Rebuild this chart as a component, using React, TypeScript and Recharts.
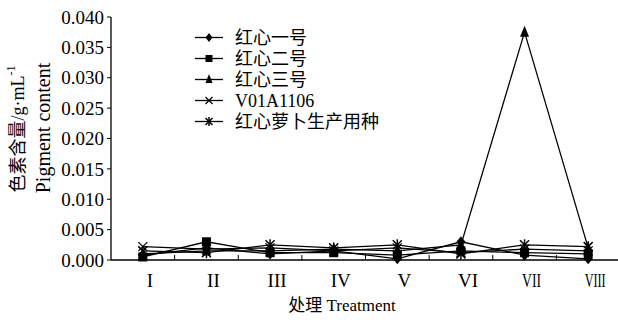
import React from 'react';
import { LineChart, Line, XAxis, YAxis, Legend } from 'recharts';

// Treatments I–VIII
const categories = ['I', 'II', 'III', 'IV', 'V', 'VI', 'VII', 'VIII'];

// pigment content, g/mL
const hongxin1 = [0.0008, 0.002, 0.001, 0.0015, 0.0002, 0.003, 0.0008, 0.0002];
const hongxin2 = [0.0005, 0.003, 0.0012, 0.0012, 0.0008, 0.0015, 0.0012, 0.001];
const hongxin3 = [0.001, 0.0015, 0.0015, 0.0018, 0.0015, 0.0025, 0.0375, 0.002];
const v01a1106 = [0.0022, 0.0018, 0.002, 0.0015, 0.002, 0.0012, 0.0018, 0.0015];
const seedStock = [0.0015, 0.0012, 0.0025, 0.002, 0.0025, 0.001, 0.0025, 0.0022];

const yTicks = [0, 0.005, 0.01, 0.015, 0.02, 0.025, 0.03, 0.035, 0.04];

const seriesNames = ['红心一号', '红心二号', '红心三号', 'V01A1106', '红心萝卜生产用种'];
const seriesKeys = ['s1', 's2', 's3', 's4', 's5'];
const seriesShapes = ['diamond', 'square', 'triangle', 'cross', 'star'];

const data = categories.map((cat, i) => ({
  cat,
  s1: hongxin1[i],
  s2: hongxin2[i],
  s3: hongxin3[i],
  s4: v01a1106[i],
  s5: seedStock[i],
}));

const SERIF = '"Liberation Serif", "Times New Roman", "Noto Sans CJK SC", serif';

const Marker = ({ shape, cx, cy, s = 4.5 }: { shape: string; cx: number; cy: number; s?: number }) => {
  if (cx == null || cy == null) return null;
  switch (shape) {
    case 'diamond':
      return <polygon points={`${cx},${cy - s - 1} ${cx + s},${cy} ${cx},${cy + s + 1} ${cx - s},${cy}`} fill="#000" />;
    case 'square':
      return <rect x={cx - s} y={cy - s} width={2 * s} height={2 * s} fill="#000" />;
    case 'triangle':
      return <polygon points={`${cx},${cy - s - 2} ${cx + s},${cy + s} ${cx - s},${cy + s}`} fill="#000" />;
    case 'cross':
      return (
        <g stroke="#000" strokeWidth={1.3}>
          <line x1={cx - s} y1={cy - s} x2={cx + s} y2={cy + s} />
          <line x1={cx - s} y1={cy + s} x2={cx + s} y2={cy - s} />
        </g>
      );
    default:
      return (
        <g stroke="#000" strokeWidth={1.5}>
          <line x1={cx} y1={cy - s - 1} x2={cx} y2={cy + s + 1} />
          <line x1={cx - s} y1={cy - s} x2={cx + s} y2={cy + s} />
          <line x1={cx - s} y1={cy + s} x2={cx + s} y2={cy - s} />
        </g>
      );
  }
};

const XTick = (props: any) => {
  const { x, y, payload, index, visibleTicksCount } = props;
  const half = payload && payload.offset ? payload.offset : 31.8;
  const label = payload.value as string;
  const squeeze = label === 'VII' ? 19 : label === 'VIII' ? 21 : undefined;
  return (
    <g>
      {index < visibleTicksCount - 1 && (
        <line x1={x + half} x2={x + half} y1={y} y2={y - 5} stroke="#000" strokeWidth={1} />
      )}
      <text
        x={x + 7}
        y={y + 27}
        textAnchor="middle"
        fontFamily={SERIF}
        fontSize={19}
        fill="#000"
        textLength={squeeze}
        lengthAdjust={squeeze ? 'spacingAndGlyphs' : undefined}
      >
        {label}
      </text>
    </g>
  );
};

const LegendRows = () => (
  <svg width={220} height={110}>
    {seriesNames.map((name, i) => {
      const cy = 10.5 + i * 21;
      return (
        <g key={name}>
          <line x1={5} x2={33} y1={cy} y2={cy} stroke="#000" strokeWidth={1.3} />
          <Marker shape={seriesShapes[i]} cx={19} cy={cy} s={3.5} />
          <text x={45} y={cy} dy="0.35em" fontFamily={SERIF} fontSize={18} fill="#000">
            {name}
          </text>
        </g>
      );
    })}
  </svg>
);

const YTitle = () => (
  <g fill="#000">
    <text
      x={18}
      y={129}
      transform="rotate(-90, 18, 129)"
      textAnchor="middle"
      dominantBaseline="central"
      fontFamily={SERIF}
      fontSize={18}
    >
      色素含量/g·mL<tspan dy={-7} fontSize={12}>-1</tspan>
    </text>
    <text x={50} y={128} transform="rotate(-90, 50, 128)" textAnchor="middle" fontFamily={SERIF} fontSize={20}>
      Pigment content
    </text>
  </g>
);

const App: React.FC = () => {
  return (
    <div style={{ position: 'absolute', left: 0, top: 0, width: 618, height: 322, background: '#fff' }}>
      <LineChart width={618} height={322} data={data} margin={{ top: 17, right: -2, bottom: 32, left: 51 }}>
        <XAxis
          dataKey="cat"
          scale="band"
          interval={0}
          height={30}
          tickSize={0}
          tickMargin={0}
          tickLine={false}
          axisLine={{ stroke: '#000', strokeWidth: 1.3 }}
          tick={<XTick />}
          label={{
            value: '处理 Treatment',
            position: 'insideBottom',
            offset: 0,
            content: () => (
              <text x={342} y={311} textAnchor="middle" fontFamily={SERIF} fontSize={17} fill="#000">
                处理 Treatment
              </text>
            ),
          }}
        />
        <YAxis
          width={60}
          domain={[0, 0.04]}
          ticks={yTicks}
          interval={0}
          tickFormatter={(v: number) => v.toFixed(3)}
          tickSize={4}
          tickMargin={3}
          tickLine={{ stroke: '#000' }}
          axisLine={{ stroke: '#000', strokeWidth: 1.3 }}
          tick={{ fill: '#000', fontFamily: SERIF, fontSize: 19 }}
          label={{ value: 'Pigment content', position: 'insideLeft', content: () => <YTitle /> }}
        />
        <Legend
          layout="horizontal"
          verticalAlign="middle"
          align="center"
          wrapperStyle={{ left: 190, top: 27, width: 220, height: 110 }}
          content={() => <LegendRows />}
        />
        {seriesKeys.map((key, i) => (
          <Line
            key={key}
            dataKey={key}
            name={seriesNames[i]}
            type="linear"
            stroke="#000"
            strokeWidth={1.3}
            isAnimationActive={false}
            activeDot={false}
            dot={(p: any) => <Marker key={`${key}-${p.index}`} shape={seriesShapes[i]} cx={p.cx} cy={p.cy} />}
          />
        ))}
      </LineChart>
    </div>
  );
};

export default App;
